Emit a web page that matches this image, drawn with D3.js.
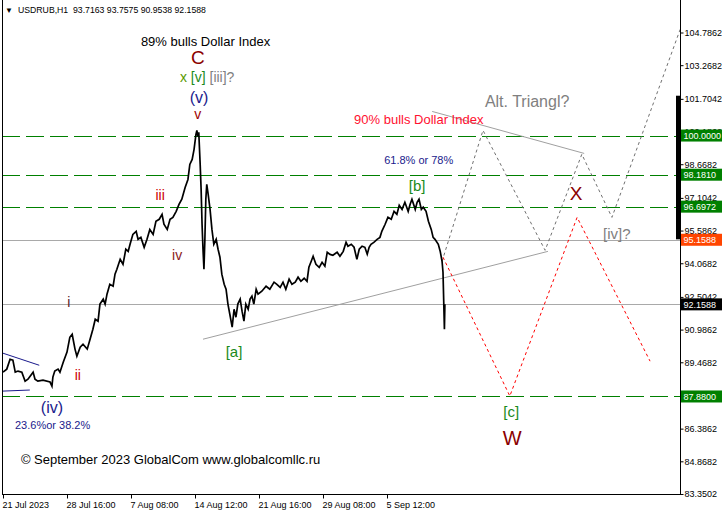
<!DOCTYPE html>
<html><head><meta charset="utf-8">
<script src="https://cdn.jsdelivr.net/npm/d3@7"></script>
<style>body{margin:0;background:#fff} svg{display:block} text{font-family:"Liberation Sans",Arial,sans-serif}</style>
</head><body><svg id="c" width="722" height="518"></svg>
<script>
// ---- data ----
const barIdx = [0,8,15,21,26,32,40,47,53,64,68,74,85,100,104,106,110,117,121,128,136,142,147,153,157,164,170,179,185,191,196,202,206,213,217,221,227,234,238,242,249,255,261,266,270,276,283,287,293,300,306,312,319,325,332,338,342,349,355,361,368,374,380,387,393,397,402,406,410,412,414,416,419,421,423,425,427,429,431,433,436,440,444,448,453,457,461,465,470,474,478,482,487,491,495,499,504,508,512,516,521,525,529,533,538,542,550,559,567,576,582,589,595,601,608,614,621,627,633,640,646,650,655,659,665,672,678,684,689,695,701,710,716,723,729,733,740,746,752,757,763,769,774,778,782,788,795,801,805,812,818,825,831,837,842,848,854,861,865,869,876,880,884,889,893,899,904,910,914,918,925,929,933,935,938,939];
const closes = [89.01,89.15,89.61,89.57,89.01,89.06,89.01,88.59,88.68,89.01,88.68,88.59,88.64,88.55,88.36,88.78,89.06,89.15,89.01,89.47,89.94,90.63,90.77,90.08,89.75,90.17,90.31,90.08,90.54,91.00,91.47,91.38,92.17,92.40,92.17,92.63,93.09,93.00,93.56,93.79,94.25,94.02,94.72,94.62,94.95,95.41,95.55,95.18,95.27,94.81,95.18,95.64,95.41,96.02,96.11,96.34,95.88,95.64,96.11,96.20,96.48,96.80,97.04,97.59,97.96,98.66,98.89,99.36,100.05,100.24,99.96,100.15,98.66,97.50,95.88,94.72,93.79,95.18,97.04,97.73,97.27,96.57,95.64,94.95,95.18,94.72,94.35,93.56,93.09,92.86,92.17,91.70,91.10,91.93,91.56,92.17,92.40,91.84,91.38,92.17,91.93,92.40,92.54,92.17,92.86,92.63,92.77,93.00,92.86,93.19,93.09,92.95,93.19,92.86,93.33,93.09,93.19,93.42,93.23,93.37,93.23,93.88,94.16,94.39,94.02,93.88,94.11,93.93,94.58,94.48,94.44,94.58,94.39,94.62,95.04,94.86,94.95,94.81,94.25,94.72,94.86,94.81,94.49,94.81,94.95,95.04,95.18,95.27,95.55,95.88,96.20,96.11,96.48,96.34,96.76,96.57,96.90,96.48,96.80,97.04,96.57,96.90,97.04,96.57,96.67,96.48,96.02,95.64,95.27,95.18,94.95,94.63,94.16,93.65,91.00,92.16];

const yTicks = [104.7862,103.2682,101.7042,100.1862,98.6682,97.1042,95.5862,94.0682,92.5042,90.9862,89.4682,87.9502,86.3862,84.8682,83.3502];
const hiddenTickLabels = [87.9502];
const xTickIdx = [0,136,272,408,544,680,816];
const xTickLabels = ["21 Jul 2023","28 Jul 16:00","7 Aug 08:00","14 Aug 12:00","21 Aug 16:00","29 Aug 08:00","5 Sep 12:00"];

const greenLevels = [100.0000, 98.1810, 96.6972, 87.8800];
const grayLevels = [95.1588, 92.1588];
const priceTags = [
  {v:100.0000, bg:"#008000"},
  {v:98.1810, bg:"#008000"},
  {v:96.6972, bg:"#008000"},
  {v:95.1588, bg:"#ff4500"},
  {v:92.1588, bg:"#000000"},
  {v:87.8800, bg:"#008000"}
];

// trend lines [idx1, price1, idx2, price2]
const lowerTriLine = [425, 90.54, 1158, 94.62];
const upperTriLine = [912, 101.12, 1235, 99.17];
const blueLineTop = [0, 89.89, 77, 89.33];
const blueLineBot = [0, 88.13, 57, 88.18];

// projected paths
const grayPathIdx = [933, 1020, 1152, 1230, 1294, 1439];
const grayPathVal = [94.16, 100.24, 94.67, 99.13, 96.20, 104.93];
const redPathIdx = [935, 1077, 1220, 1375];
const redPathVal = [94.35, 87.90, 96.20, 89.52];

const depthBar = [101.85, 95.18];

// annotations: text, idx, price, size, color, anchor
const labels = [
  {t:"89% bulls Dollar Index", i:293, p:104.18, s:13, c:"#000", a:"start"},
  {t:"C", i:414, p:103.30, s:19, c:"#8b0000", a:"middle"},
  {t:"(v)", i:416.5, p:101.49, s:16, c:"#1a1a8c", a:"middle"},
  {t:"v", i:414, p:100.75, s:14, c:"#a00000", a:"middle"},
  {t:"iii", i:334, p:96.99, s:14, c:"#cc0000", a:"middle"},
  {t:"iv", i:370, p:94.21, s:14, c:"#8b1a1a", a:"middle"},
  {t:"i", i:140, p:92.03, s:14, c:"#5a2020", a:"middle"},
  {t:"ii", i:159, p:88.64, s:14, c:"#cc0000", a:"middle"},
  {t:"(iv)", i:104, p:87.11, s:16, c:"#1a1a8c", a:"middle"},
  {t:"23.6%or 38.2%", i:25.5, p:86.37, s:11, c:"#1a1a8c", a:"start"},
  {t:"[a]", i:491, p:89.71, s:15, c:"#1a8a1a", a:"middle"},
  {t:"[b]", i:880, p:97.41, s:15, c:"#1a8a1a", a:"middle"},
  {t:"61.8% or 78%", i:810, p:98.66, s:11, c:"#1a1a8c", a:"start"},
  {t:"90% bulls Dollar Index", i:746, p:100.52, s:13, c:"#ff1030", a:"start"},
  {t:"Alt. Triangl?", i:1024, p:101.31, s:16, c:"#808080", a:"start"},
  {t:"X", i:1218, p:96.99, s:19, c:"#8b0000", a:"middle"},
  {t:"[iv]?", i:1275, p:95.18, s:15, c:"#808080", a:"start"},
  {t:"[c]", i:1080, p:86.92, s:15, c:"#1a8a1a", a:"middle"},
  {t:"W", i:1082, p:85.62, s:20, c:"#8b0000", a:"middle"},
  {t:"© September 2023 GlobalCom www.globalcomllc.ru", i:38, p:84.74, s:13, c:"#000", a:"start"}
];

// ---- drawing ----
const svg = d3.select("#c");
const W = 722, H = 518;
const plotL = 2, plotR = 680, plotB = 494;
const x = d3.scaleLinear().domain([0, 816]).range([3, 387]);
const y = d3.scaleLinear().domain([83.3502, 104.7862]).range([494, 32.5]);

svg.append("rect").attr("width", W).attr("height", H).attr("fill", "#fff");

const g = svg.append("g");
svg.append("clipPath").attr("id","pc").append("rect")
  .attr("x", plotL).attr("y", 0).attr("width", plotR - plotL).attr("height", plotB);
const pg = g.append("g").attr("clip-path","url(#pc)");

// horizontal levels
pg.selectAll(".gl").data(grayLevels).join("line")
  .attr("x1", plotL).attr("x2", plotR).attr("y1", d => Math.round(y(d))+0.5).attr("y2", d => Math.round(y(d))+0.5)
  .attr("stroke", "#a9a9a9").attr("stroke-width", 1);
pg.selectAll(".grl").data(greenLevels).join("line")
  .attr("x1", plotL).attr("x2", plotR).attr("y1", d => Math.round(y(d))+0.5).attr("y2", d => Math.round(y(d))+0.5)
  .attr("stroke", "#008000").attr("stroke-width", 1).attr("stroke-dasharray", "18,6");

// trend lines
function seg(arr, color, w) {
  pg.append("line").attr("x1", x(arr[0])).attr("y1", y(arr[1])).attr("x2", x(arr[2])).attr("y2", y(arr[3]))
    .attr("stroke", color).attr("stroke-width", w);
}
seg(lowerTriLine, "#a0a0a0", 1);
seg(upperTriLine, "#a0a0a0", 1);
seg(blueLineTop, "#1a1a8c", 1);
seg(blueLineBot, "#1a1a8c", 1);

// projections
const lineGen = d3.line().x(d => x(d[0])).y(d => y(d[1]));
pg.append("path").datum(grayPathIdx.map((d,i)=>[d, grayPathVal[i]])).attr("d", lineGen)
  .attr("fill","none").attr("stroke","#707070").attr("stroke-width",1).attr("stroke-dasharray","3,3");
pg.append("path").datum(redPathIdx.map((d,i)=>[d, redPathVal[i]])).attr("d", lineGen)
  .attr("fill","none").attr("stroke","#ff0000").attr("stroke-width",1).attr("stroke-dasharray","3,3");

// price line
pg.append("path").datum(barIdx.map((d,i)=>[d, closes[i]])).attr("d", lineGen)
  .attr("fill","none").attr("stroke","#000").attr("stroke-width",1.7).attr("stroke-linejoin","miter");

// labels
labels.forEach(l => {
  g.append("text").attr("x", x(l.i)).attr("y", y(l.p)).attr("font-size", l.s)
    .attr("fill", l.c).attr("text-anchor", l.a).text(l.t);
});
// mixed-colour label
const mx = g.append("text").attr("x", x(376)).attr("y", y(102.47)).attr("font-size", 14);
mx.append("tspan").attr("fill", "#5a9a00").text("x ");
mx.append("tspan").attr("fill", "#1a8a1a").text("[v] ");
mx.append("tspan").attr("fill", "#808080").text("[iii]?");

// frame
g.append("line").attr("x1", plotL+0.5).attr("x2", plotL+0.5).attr("y1", 0).attr("y2", plotB+0.5).attr("stroke","#000");
g.append("line").attr("x1", plotR+0.5).attr("x2", plotR+0.5).attr("y1", 0).attr("y2", plotB+0.5).attr("stroke","#000");
g.append("line").attr("x1", plotL).attr("x2", plotR+1).attr("y1", plotB+0.5).attr("y2", plotB+0.5).attr("stroke","#000");

// depth bar near axis
g.append("rect").attr("x", plotR-4).attr("width", 4).attr("y", y(depthBar[0])).attr("height", y(depthBar[1]) - y(depthBar[0])).attr("fill", "#000");

// right axis
const ra = g.append("g").attr("transform", `translate(${plotR+0.5},0)`)
  .call(d3.axisRight(y).tickValues(yTicks).tickSize(3).tickPadding(1)
    .tickFormat(d => hiddenTickLabels.includes(d) ? "" : d3.format(".4f")(d)));
ra.select(".domain").remove();
ra.selectAll("text").attr("font-size", 9).attr("fill","#000").attr("font-family","Liberation Sans, Arial, sans-serif");
ra.selectAll("line").attr("stroke","#000");

// price tags
const tg = g.selectAll(".tag").data(priceTags).join("g").attr("transform", d => `translate(${plotR+1},${y(d.v)})`);
tg.append("rect").attr("x", 0).attr("y", -6).attr("width", 41).attr("height", 12).attr("fill", d => d.bg);
tg.append("text").attr("x", 2.5).attr("y", 3.5).attr("font-size", 9).attr("fill","#fff").text(d => d.v.toFixed(4));

// bottom axis
const ba = g.append("g").attr("transform", `translate(0,${plotB+0.5})`)
  .call(d3.axisBottom(x).tickValues(xTickIdx).tickSize(4).tickPadding(3).tickFormat((d,i) => xTickLabels[i]));
ba.select(".domain").remove();
ba.selectAll("text").attr("font-size", 9).attr("fill","#000").attr("text-anchor","start").attr("dx", -1)
  .attr("font-family","Liberation Sans, Arial, sans-serif");
ba.selectAll("line").attr("stroke","#000");

// header
g.append("text").attr("x", 5).attr("y", 13).attr("font-size", 8).text("▼");
g.append("text").attr("x", 18).attr("y", 13).attr("font-size", 8.7).attr("fill","#000")
  .style("white-space","pre").text("USDRUB,H1  93.7163 93.7575 90.9538 92.1588");
</script></body></html>
